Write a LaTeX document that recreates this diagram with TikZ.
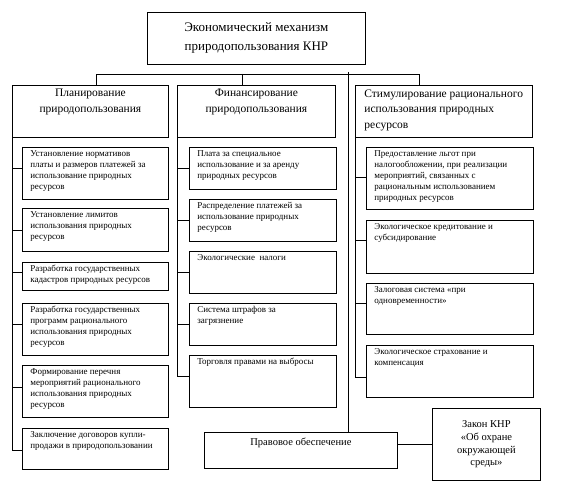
\documentclass[tikz,border=0pt]{standalone}
\usepackage{fontspec}
\setmainfont{Liberation Serif}

% текст в рамке: ширина, высота, отступ сверху, текст
\newcommand{\cellL}[4]{\parbox[c][#2][t]{#1}{\vspace*{#3}\raggedright\leftskip=8pt #4\par}}
\newcommand{\cellC}[4]{\parbox[c][#2][t]{#1}{\vspace*{#3}\centering #4\par}}

\tikzset{
  box/.style={draw, line width=0.8pt, anchor=north west, inner sep=0pt,
              font=\fontsize{9}{11}\selectfont},
  headbox/.style={box, font=\fontsize{11.5}{15.5}\selectfont},
}

\begin{document}
\begin{tikzpicture}[x=1pt, y=-1pt, line width=0.8pt]
    \useasboundingbox (0,0) rectangle (565,486);

    % Верхний блок
    \node[box, font=\fontsize{13}{19}\selectfont] (top) at (147,12)
        {\parbox[c][52pt][c]{218pt}{\centering Экономический механизм\\природопользования КНР}};

    % Заголовки колонок
    \node[headbox] (plan) at (12,85) {\cellC{156pt}{52pt}{4pt}{Планирование\\природопользования}};
    \node[headbox] (fin) at (177,85) {\cellC{158pt}{52pt}{4pt}{Финансирование\\природопользования}};
    \node[headbox] (stim) at (355,85)
        {\parbox[c][52pt][t]{177pt}{\vspace*{4pt}\raggedright\leftskip=9pt Стимулирование рационального\\использования природных\\ресурсов\par}};

    % ПЕРВАЯ КОЛОНКА
    \node[box] (p1) at (22,147) {\cellL{146pt}{52pt}{3pt}{Установление нормативов\\платы и размеров платежей за\\использование природных\\ресурсов}};
    \node[box] (p2) at (22,208) {\cellL{146pt}{43pt}{3pt}{Установление лимитов\\использования природных\\ресурсов}};
    \node[box] (p3) at (22,262) {\cellL{146pt}{28pt}{3pt}{Разработка государственных\\кадастров природных ресурсов}};
    \node[box] (p4) at (22,303) {\cellL{146pt}{52pt}{3pt}{Разработка государственных\\программ рационального\\использования природных\\ресурсов}};
    \node[box] (p5) at (22,365) {\cellL{146pt}{52pt}{3pt}{Формирование перечня\\мероприятий рационального\\использования природных\\ресурсов}};
    \node[box] (p6) at (22,428) {\cellL{146pt}{41pt}{3pt}{Заключение договоров купли-\\продажи в природопользовании}};

    % ВТОРАЯ КОЛОНКА
    \node[box] (f1) at (189,147) {\cellL{147pt}{42pt}{3pt}{Плата за специальное\\использование и за аренду\\природных ресурсов}};
    \node[box] (f2) at (189,199) {\cellL{147pt}{42pt}{3pt}{Распределение платежей за\\использование природных\\ресурсов}};
    \node[box] (f3) at (189,251) {\cellL{147pt}{42pt}{3pt}{Экологические\ \ налоги}};
    \node[box] (f4) at (189,303) {\cellL{147pt}{42pt}{3pt}{Система штрафов за\\загрязнение}};
    \node[box] (f5) at (189,355) {\cellL{147pt}{52pt}{3pt}{Торговля правами на выбросы}};

    % ТРЕТЬЯ КОЛОНКА
    \node[box] (s1) at (366,147) {\cellL{167pt}{62pt}{3pt}{Предоставление льгот при\\налогообложении, при реализации\\мероприятий, связанных с\\рациональным использованием\\природных ресурсов}};
    \node[box] (s2) at (366,220) {\cellL{167pt}{53pt}{3pt}{Экологическое кредитование и\\субсидирование}};
    \node[box] (s3) at (366,283) {\cellL{167pt}{51pt}{3pt}{Залоговая система «при\\одновременности»}};
    \node[box] (s4) at (366,345) {\cellL{167pt}{52pt}{3pt}{Экологическое страхование и\\компенсация}};

    % Правовое обеспечение и закон
    \node[box, font=\fontsize{10.5}{13}\selectfont] (legal) at (204,432) {\cellC{193pt}{36pt}{6pt}{Правовое обеспечение}};
    \node[box, font=\fontsize{10.5}{12.8}\selectfont] (law) at (432,408)
        {\parbox[c][72pt][c]{108pt}{\centering Закон КНР\\«Об охране\\окружающей\\среды»}};

    % Шина под верхним блоком
    \coordinate (hub) at (348,72);
    \coordinate (b1) at (96,74);
    \coordinate (b2) at (242,74);
    \coordinate (b3) at (419,74);
    \draw (b1 |- plan.north) -- (b1) -- (b3) -- (b3 |- stim.north);
    \draw (b2) -- (b2 |- fin.north);
    \draw (hub) -- (hub |- legal.north);
    \draw (law.west) -- (law.west -| legal.east);

    % Вертикальные линии колонок с отводами
    \draw (plan.south west) |- ([yshift=-22pt]p6.north west);
    \foreach \b/\d in {p1/21,p2/22,p3/10,p4/21,p5/22}
        \draw ([yshift=-\d pt]\b.north west) coordinate (t) -- (t -| plan.west);
    \draw (fin.south west) |- ([yshift=-21pt]f5.north west);
    \foreach \b/\d in {f1/21,f2/21,f3/21,f4/21}
        \draw ([yshift=-\d pt]\b.north west) coordinate (t) -- (t -| fin.west);
    \draw (stim.south west) |- ([yshift=-32pt]s4.north west);
    \foreach \b/\d in {s1/30,s2/20,s3/20}
        \draw ([yshift=-\d pt]\b.north west) coordinate (t) -- (t -| stim.west);
\end{tikzpicture}
\end{document}
